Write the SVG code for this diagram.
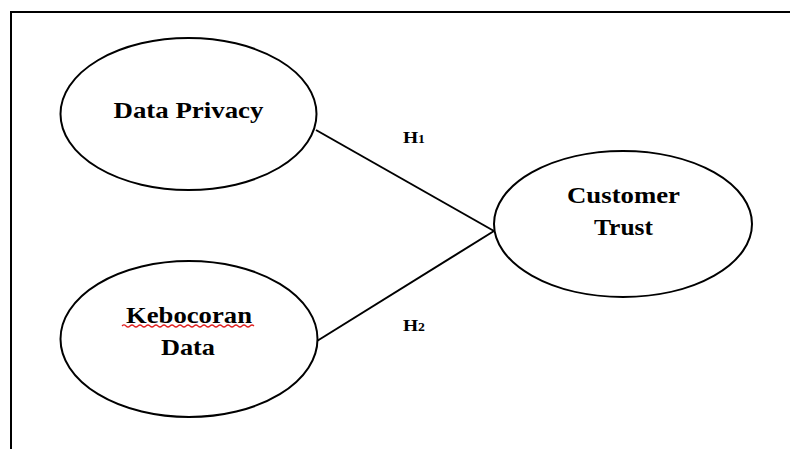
<svg xmlns="http://www.w3.org/2000/svg" width="790" height="449" viewBox="0 0 790 449">
  <style>
    .node { fill: #ffffff; stroke: #000000; stroke-width: 2; }
    .label { font-family: "Liberation Serif", "Times New Roman", serif; font-weight: bold; font-size: 23px; fill: #000000; text-anchor: middle; }
    .hyp { font-family: "Liberation Serif", "Times New Roman", serif; font-weight: bold; font-size: 17px; fill: #000000; text-anchor: middle; }
    .edge { stroke: #000000; stroke-width: 2; fill: none; }
    .frame { stroke: #000000; stroke-width: 2; fill: none; }
    .squiggle { stroke: #e02020; stroke-width: 1.2; fill: none; }
  </style>

  <rect width="790" height="449" fill="#ffffff"/>

  <!-- outer frame: top and left rules -->
  <path class="frame" d="M11 449 V12 H790"/>

  <!-- connectors -->
  <g id="connectors">
    <line class="edge" x1="316" y1="130" x2="494" y2="231"/>
    <line class="edge" x1="317" y1="341" x2="494" y2="231"/>
    <text class="hyp" x="414" y="143" textLength="22" lengthAdjust="spacingAndGlyphs">H<tspan font-size="12">1</tspan></text>
    <text class="hyp" x="414" y="331" textLength="22" lengthAdjust="spacingAndGlyphs">H<tspan font-size="12">2</tspan></text>
  </g>

  <g id="data-privacy">
    <ellipse class="node" cx="188.5" cy="114" rx="128" ry="76"/>
    <text class="label" x="188.5" y="118" textLength="150" lengthAdjust="spacingAndGlyphs">Data Privacy</text>
  </g>

  <g id="kebocoran-data">
    <ellipse class="node" cx="189" cy="339" rx="128.5" ry="78"/>
    <text class="label" x="189" y="323" textLength="126" lengthAdjust="spacingAndGlyphs">Kebocoran</text>
    <path class="squiggle" d="M122 326 q2 -2 4 0 t4 0 t4 0 t4 0 t4 0 t4 0 t4 0 t4 0 t4 0 t4 0 t4 0 t4 0 t4 0 t4 0 t4 0 t4 0 t4 0 t4 0 t4 0 t4 0 t4 0 t4 0 t4 0 t4 0 t4 0 t4 0 t4 0 t4 0 t4 0 t4 0 t4 0 t4 0 t4 0"/>
    <text class="label" x="188" y="355" textLength="54" lengthAdjust="spacingAndGlyphs">Data</text>
  </g>

  <g id="customer-trust">
    <ellipse class="node" cx="623" cy="224" rx="129" ry="73"/>
    <text class="label" x="623.5" y="203" textLength="113" lengthAdjust="spacingAndGlyphs">Customer</text>
    <text class="label" x="623.5" y="235" textLength="59" lengthAdjust="spacingAndGlyphs">Trust</text>
  </g>
</svg>
